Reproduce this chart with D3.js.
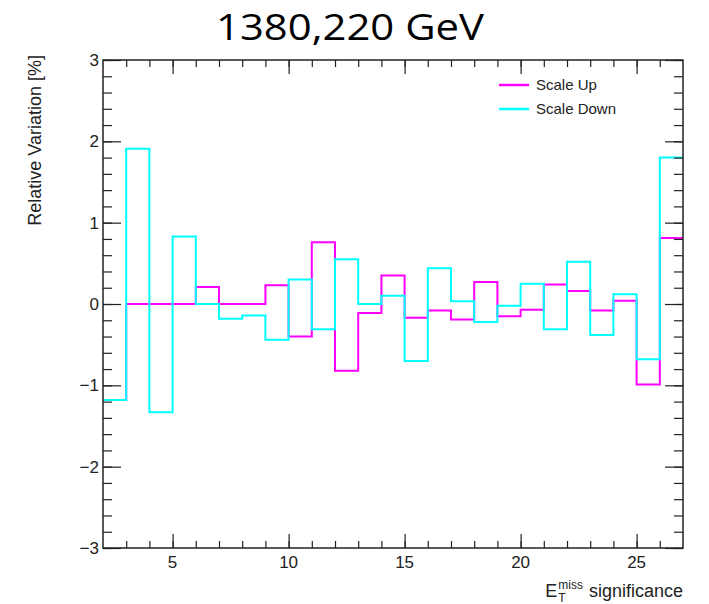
<!DOCTYPE html>
<html>
<head>
<meta charset="utf-8">
<script src="https://cdn.jsdelivr.net/npm/d3@7/dist/d3.min.js"></script>
<style>
  html, body { margin: 0; padding: 0; background: #fff; }
  svg { display: block; }
</style>
</head>
<body>
<svg id="chart" width="709" height="604"></svg>
<script>
// ---- data ----
const binEdges = [2,3,4,5,6,7,8,9,10,11,12,13,14,15,16,17,18,19,20,21,22,23,24,25,26,27];
const scaleUp = [-1.18, 0, 0, 0, 0.21, 0, 0, 0.23, -0.40, 0.76, -0.82, -0.11, 0.35,
                 -0.17, -0.08, -0.19, 0.27, -0.15, -0.07, 0.24, 0.16, -0.08, 0.04, -0.99, 0.81];
const scaleDown = [-1.18, 1.91, -1.33, 0.83, 0, -0.18, -0.14, -0.44, 0.30, -0.31, 0.55, 0, 0.10,
                   -0.70, 0.44, 0.035, -0.22, -0.02, 0.25, -0.31, 0.52, -0.38, 0.12, -0.68, 1.80];
const seriesNames = ["Scale Up", "Scale Down"];
const seriesColors = ["#ff00ff", "#00ffff"];
const xMajorTicks = [5, 10, 15, 20, 25];
const yMajorTicks = [-3, -2, -1, 0, 1, 2, 3];
const titleText = "1380,220 GeV";
const yTitle = "Relative Variation [%]";

// ---- layout ----
const svg = d3.select("#chart");
const L = 103, R = 683, T = 60, B = 548;
const x = d3.scaleLinear().domain([2, 27]).range([L, R]);
const y = d3.scaleLinear().domain([-3, 3]).range([B, T]);

// title
svg.append("text").attr("x", 350).attr("y", 40)
  .attr("text-anchor", "middle")
  .attr("font-family", "Open Sans, sans-serif")
  .attr("font-size", 37)
  .attr("textLength", 268)
  .attr("lengthAdjust", "spacingAndGlyphs")
  .attr("fill", "#000")
  .text(titleText);

// histograms
function stepPath(vals) {
  let pts = [];
  vals.forEach((v, i) => {
    pts.push([x(binEdges[i]), y(v)]);
    pts.push([x(binEdges[i + 1]), y(v)]);
  });
  return d3.line()(pts);
}
svg.append("clipPath").attr("id", "clip")
  .append("rect").attr("x", L).attr("y", T).attr("width", R - L).attr("height", B - T);
[scaleUp, scaleDown].forEach((vals, k) => {
  svg.append("path")
    .attr("d", stepPath(vals))
    .attr("fill", "none")
    .attr("stroke", seriesColors[k])
    .attr("stroke-width", 2)
    .attr("clip-path", "url(#clip)");
});

// axes (ROOT style, ticks inside, mirrored)
const axisColor = "#222";
const fontAx = "Liberation Sans, Arial, sans-serif";

const gB = svg.append("g").attr("transform", `translate(0,${B})`)
  .call(d3.axisTop(x).tickValues(d3.range(3, 27)).tickSize(7).tickFormat(""));
const gBM = svg.append("g").attr("transform", `translate(0,${B})`)
  .call(d3.axisTop(x).tickValues(xMajorTicks).tickSize(14).tickFormat(""));
const gT = svg.append("g").attr("transform", `translate(0,${T})`)
  .call(d3.axisBottom(x).tickValues(d3.range(3, 27)).tickSize(7).tickFormat(""));
const gTM = svg.append("g").attr("transform", `translate(0,${T})`)
  .call(d3.axisBottom(x).tickValues(xMajorTicks).tickSize(14).tickFormat(""));

const yMinor = d3.range(-30, 31, 2).map(d => d / 10);
const gL = svg.append("g").attr("transform", `translate(${L},0)`)
  .call(d3.axisRight(y).tickValues(yMinor).tickSize(9).tickFormat(""));
const gLM = svg.append("g").attr("transform", `translate(${L},0)`)
  .call(d3.axisRight(y).tickValues(yMajorTicks).tickSize(18).tickFormat(""));
const gR = svg.append("g").attr("transform", `translate(${R},0)`)
  .call(d3.axisLeft(y).tickValues(yMinor).tickSize(9).tickFormat(""));
const gRM = svg.append("g").attr("transform", `translate(${R},0)`)
  .call(d3.axisLeft(y).tickValues(yMajorTicks).tickSize(18).tickFormat(""));

[gB, gBM, gT, gTM, gL, gLM, gR, gRM].forEach(g => {
  g.select(".domain").remove();
  g.selectAll("line").attr("stroke", axisColor).attr("stroke-width", 1.2);
});

// frame
svg.append("rect").attr("x", L).attr("y", T).attr("width", R - L).attr("height", B - T)
  .attr("fill", "none").attr("stroke", axisColor).attr("stroke-width", 1.5);

// tick labels
svg.append("g").selectAll("text").data(xMajorTicks).join("text")
  .attr("x", d => x(d)).attr("y", B + 20)
  .attr("text-anchor", "middle")
  .attr("font-family", fontAx).attr("font-size", 17).attr("fill", "#222")
  .text(d => d);
svg.append("g").selectAll("text").data(yMajorTicks).join("text")
  .attr("x", L - 4).attr("y", d => y(d)).attr("dy", "0.36em")
  .attr("text-anchor", "end")
  .attr("font-family", fontAx).attr("font-size", 17).attr("fill", "#222")
  .text(d => d < 0 ? "\u2212" + Math.abs(d) : d);

// y title
svg.append("text")
  .attr("transform", `translate(41,${T - 5}) rotate(-90)`)
  .attr("text-anchor", "end")
  .attr("font-family", fontAx).attr("font-size", 18).attr("fill", "#222")
  .text(yTitle);

// x title: E_T^miss significance
const xt = svg.append("g").attr("font-family", fontAx).attr("fill", "#222");
const sig = xt.append("text").attr("x", R).attr("y", 597)
  .attr("text-anchor", "end").attr("font-size", 18).text("significance");
const sigW = sig.node().getComputedTextLength();
const xs = R - sigW - 6;
const miss = xt.append("text").attr("x", xs).attr("y", 589)
  .attr("text-anchor", "end").attr("font-size", 12).text("miss");
const missW = miss.node().getComputedTextLength();
xt.append("text").attr("x", xs - missW).attr("y", 602)
  .attr("text-anchor", "start").attr("font-size", 12).text("T");
xt.append("text").attr("x", xs - missW - 1).attr("y", 597)
  .attr("text-anchor", "end").attr("font-size", 18).text("E");

// legend
const leg = svg.append("g");
seriesNames.forEach((name, i) => {
  const ly = 85 + i * 24;
  leg.append("line").attr("x1", 499).attr("x2", 529).attr("y1", ly).attr("y2", ly)
    .attr("stroke", seriesColors[i]).attr("stroke-width", 2.5);
  leg.append("text").attr("x", 536).attr("y", ly).attr("dy", "0.36em")
    .attr("font-family", fontAx).attr("font-size", 15).attr("fill", "#222")
    .text(name);
});
</script>
</body>
</html>
